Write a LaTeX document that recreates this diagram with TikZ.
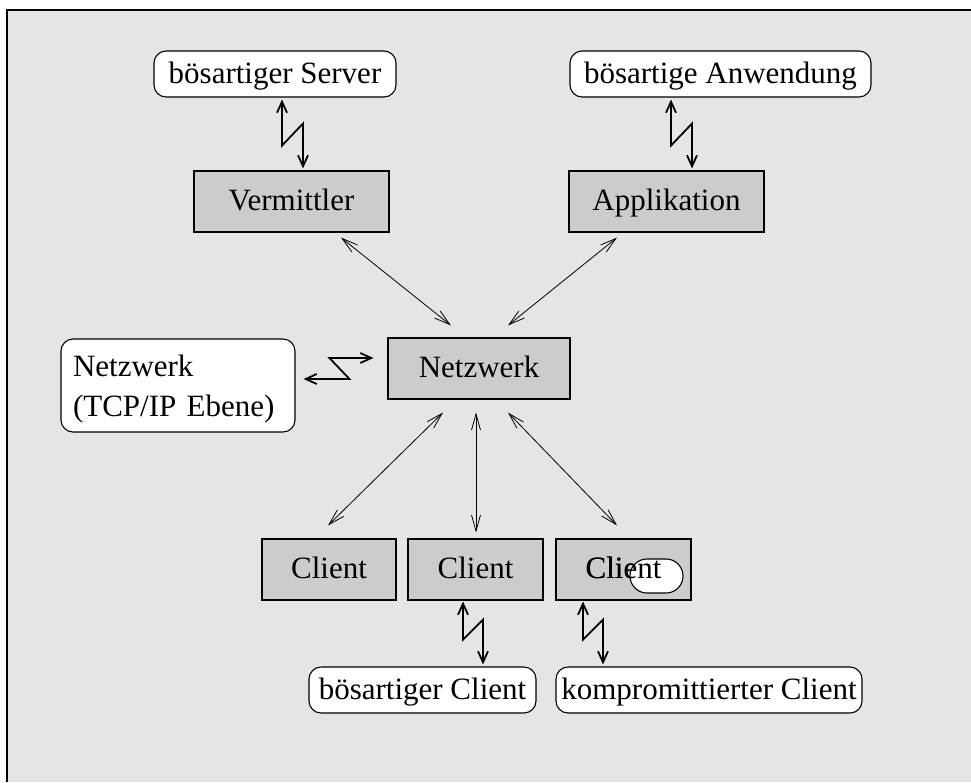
\documentclass[tikz,border=0pt]{standalone}
\usepackage{fontspec}
\setmainfont{Liberation Serif}
\usetikzlibrary{arrows.meta}
\definecolor{bgray}{RGB}{229,229,229}
\definecolor{boxgray}{RGB}{204,204,204}
\begin{document}
\begin{tikzpicture}[x=1pt,y=-1pt,
    every node/.style={font=\fontsize{31}{40}\selectfont, inner sep=0pt},
    gbox/.style={draw, line width=1.1pt, fill=boxgray, minimum height=61pt,
      text height=22pt, text depth=4pt},
    wbox/.style={draw, line width=1.1pt, fill=white, rounded corners=12pt,
      minimum height=46pt, text height=22pt, text depth=4pt},
    link/.style={<->, line width=0.8pt, >={Straight Barb[length=16pt,width=9pt]}},
    zap/.style={<->, line width=1.8pt, >={Straight Barb[length=11pt,width=10pt]}}]
      \useasboundingbox (0,0) rectangle (971,782);
      \fill[bgray] (7,10) rectangle (971,782);
      \draw[line width=1.2pt] (7,782) -- (7,10) -- (971,10);
      \draw
        (275,74) node[wbox, minimum width=242pt] (srv){bösartiger Server}
        (720.5,74) node[wbox, minimum width=301pt] (anw){bösartige Anwendung}
        (291.5,201.5) node[gbox, minimum width=195pt] (verm){Vermittler}
        (666.5,201.5) node[gbox, minimum width=195pt] (appl){Applikation}
        (479,368.5) node[gbox, minimum width=182pt] (netz){Netzwerk}
        (178,385.5) node[draw, line width=1.1pt, fill=white, rounded corners=12pt,
          minimum height=93pt, inner xsep=12pt, text width=210pt, align=left]
          (tcp){\rule{0pt}{29pt}Netzwerk\\(TCP/IP Ebene)}
        (329,569.5) node[gbox, minimum width=134pt] (c1){Client}
        (475.5,569.5) node[gbox, minimum width=135pt] (c2){Client}
        (623.5,569.5) node[gbox, minimum width=135pt] (c3){Client}
        (422.5,690) node[wbox, minimum width=227pt] (bcl){bösartiger Client}
        (709,690) node[wbox, minimum width=306pt] (kcl){kompromittierter Client};
      \path (656.5,576) node[minimum width=53pt, minimum height=34pt,
        rounded corners=17pt, draw, line width=1.1pt, fill=white] (blob){};
      \path (c3.center) node[text height=22pt, text depth=4pt] (c3txt){Client};
      \begin{scope}[link]
        \draw ([xshift=49.5pt,yshift=-5pt]verm.south) to ([xshift=-28pt,yshift=12pt]netz.north);
        \draw ([xshift=-49.5pt,yshift=-5pt]appl.south) to ([xshift=29pt,yshift=12pt]netz.north);
        \draw ([xshift=-36pt,yshift=-13pt]netz.south) to ([xshift=-1pt,yshift=13pt]c1.north);
        \draw ([xshift=-3pt,yshift=-13pt]netz.south) to ([xshift=0.5pt,yshift=6pt]c2.north);
        \draw ([xshift=29pt,yshift=-13pt]netz.south) to ([xshift=-6.5pt,yshift=13pt]c3.north);
      \end{scope}
      \begin{scope}[zap]
        \draw ([xshift=7pt,yshift=-2pt]srv.south) -- ++(0,46) -- ++(21,-22)
          -- ([xshift=11.5pt,yshift=2pt]verm.north);
        \draw ([xshift=-49.5pt,yshift=-2pt]anw.south) -- ++(0,46) -- ++(21,-22)
          -- ([xshift=25.5pt,yshift=2pt]appl.north);
        \draw ([xshift=-14pt,yshift=10.5pt]netz.west) -- ++(-44,0) -- ++(20,21)
          -- ([xshift=8pt,yshift=6.5pt]tcp.east);
        \draw ([xshift=-12.5pt,yshift=-1pt]c2.south) -- ++(0,38) -- ++(20,-20)
          -- ([xshift=60.5pt,yshift=2pt]bcl.north);
        \draw ([xshift=-40.5pt,yshift=-1pt]c3.south) -- ++(0,38) -- ++(20,-20)
          -- ([xshift=-106pt,yshift=2pt]kcl.north);
      \end{scope}
    \end{tikzpicture}
\end{document}
